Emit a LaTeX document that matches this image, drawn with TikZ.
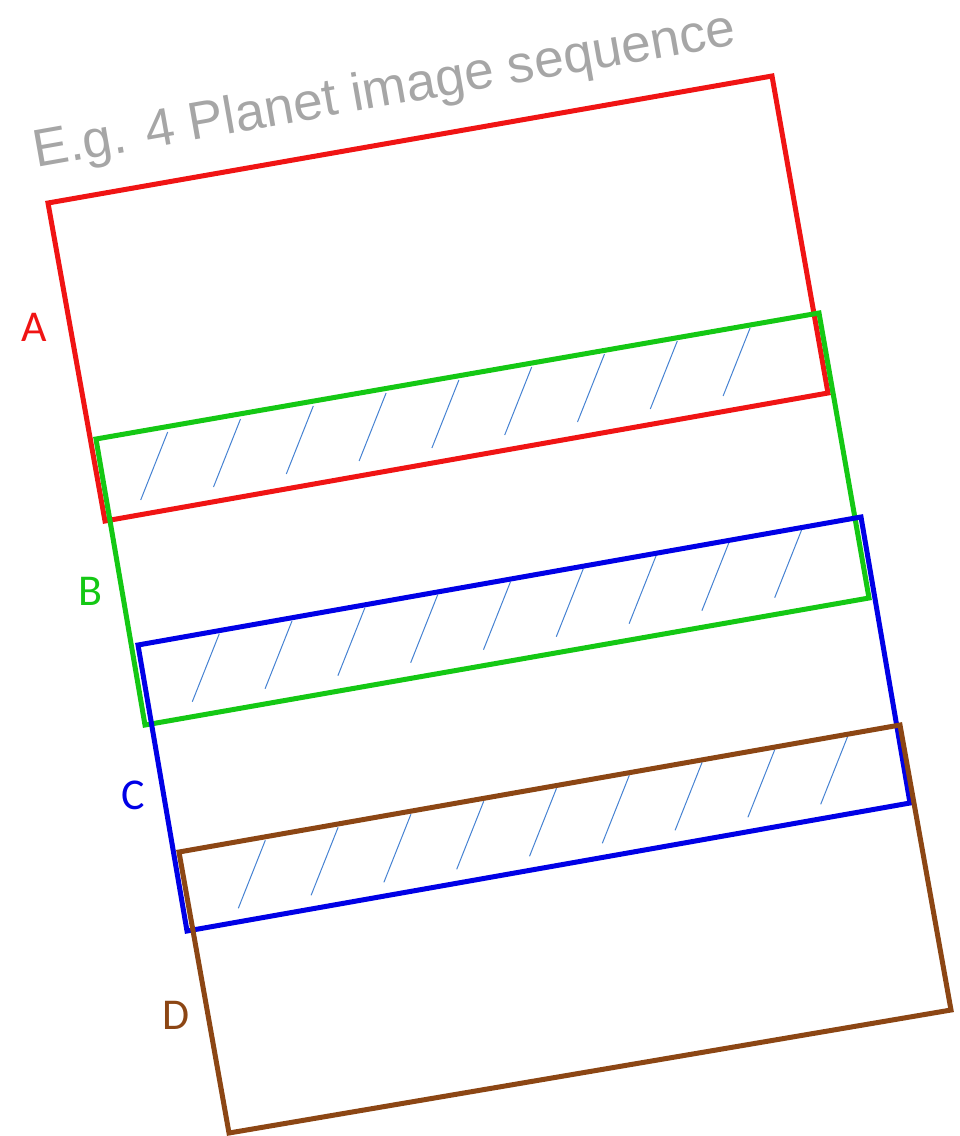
\documentclass[tikz,border=0pt]{standalone}
\usepackage{fontspec}
\setmainfont{Liberation Sans}
\newfontfamily\labelfont{Carlito}
\definecolor{cRed}{RGB}{240,20,20}
\definecolor{cGreen}{RGB}{20,200,20}
\definecolor{cBlue}{RGB}{0,0,230}
\definecolor{cBrown}{RGB}{140,70,20}
\definecolor{cHatch}{RGB}{70,130,210}
\definecolor{cTitle}{RGB}{166,166,166}
\begin{document}
\begin{tikzpicture}[x=1pt,y=-1pt,
  frame/.style={line width=5pt, line join=miter},
  hatchline/.style={line width=1pt, draw=cHatch},
  lab/.style={font=\labelfont\fontsize{44}{44}\selectfont, inner sep=0pt},
  titlestyle/.style={font=\fontsize{53}{60}\selectfont, text=cTitle, inner sep=0pt, anchor=base west, rotate=10}]
\useasboundingbox (0,0) rectangle (960,1136);
% corners
\coordinate (A1) at (48,203);  \coordinate (A2) at (772,76);  \coordinate (A3) at (828,393);  \coordinate (A4) at (105,521);
\coordinate (B1) at (96,439);  \coordinate (B2) at (819,313); \coordinate (B3) at (869,598);  \coordinate (B4) at (145,725);
\coordinate (C1) at (138,645); \coordinate (C2) at (861,517); \coordinate (C3) at (910,803);  \coordinate (C4) at (187,931);
\coordinate (D1) at (179,852); \coordinate (D2) at (900,725); \coordinate (D3) at (951,1010); \coordinate (D4) at (229,1133);
% hatching in overlaps
\foreach \sx/\sy in {140.7/500, 192.3/701.7, 238.3/908.3}{
  \foreach \i in {0,...,8}{
    \draw[hatchline] ({\sx+72.8*\i},{\sy-13*\i}) -- ++(27,-68);
  }
}
% frames
\draw[frame, cRed]   (A1) -- (A2) -- (A3) -- (A4) -- cycle;
\draw[frame, cGreen] (B1) -- (B2) -- (B3) -- (B4) -- cycle;
\draw[frame, cBlue]  (C1) -- (C2) -- (C3) -- (C4) -- cycle;
\draw[frame, cBrown] (D1) -- (D2) -- (D3) -- (D4) -- cycle;
% labels
\node[lab, text=cRed]   (labA) at (34.5,327) {A};
\node[lab, text=cGreen] (labB) at (90,591) {B};
\node[lab, text=cBlue]  (labC) at (133,795) {C};
\node[lab, text=cBrown] (labD) at (176,1015.5) {D};
% title
\node[titlestyle] (title) at (36,168) {E.g. 4 Planet image sequence};
\end{tikzpicture}
\end{document}
